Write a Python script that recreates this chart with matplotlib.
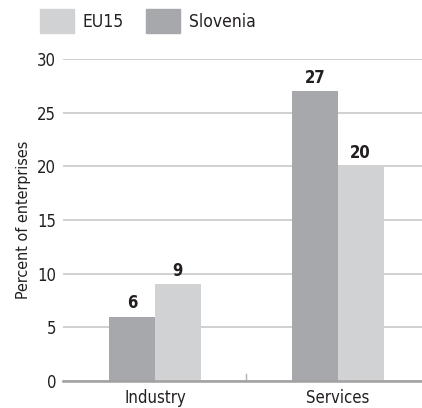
import matplotlib
matplotlib.use("Agg")
from matplotlib import pyplot as plt
from matplotlib.patches import Patch
import numpy as np

categories = ["Industry", "Services"]
slovenia = [6, 27]
eu15 = [9, 20]
yticks = [0, 5, 10, 15, 20, 25, 30]

plt.rcParams['font.family'] = ['DejaVu Sans']
plt.rcParams['font.stretch'] = 'condensed'

dark = '#a7a8ab'
light = '#d1d2d4'
txt = '#231f20'

W, H = 422, 408
fig = plt.figure(figsize=(W/100, H/100), dpi=100)
ax = fig.add_axes([63/W, (H-381)/H, (W-63)/W, (381-59)/H])

x = np.arange(len(categories))
w = 0.25
b1 = ax.bar(x - w/2, slovenia, w, color=dark, zorder=3)
b2 = ax.bar(x + w/2, eu15, w, color=light, zorder=3)
for bars in (b1, b2):
    for r in bars:
        ax.text(r.get_x() + r.get_width()/2, r.get_height() + 0.4, "%d" % r.get_height(),
                ha='center', va='bottom', fontsize=12, fontweight='bold', color=txt)

ax.set_ylim(0, 30)
ax.set_xlim(-0.503, 1.46)
ax.set_yticks(yticks)
ax.set_xticks(x)
ax.set_xticklabels(categories, fontsize=12, color=txt)
ax.tick_params(axis='y', length=0, pad=5, labelsize=12, labelcolor=txt)
ax.tick_params(axis='x', length=0, pad=6)
ax.yaxis.grid(True, color='#c8c8c8', linewidth=1.2, zorder=0)
for s in ('top', 'right', 'left'):
    ax.spines[s].set_visible(False)
ax.spines['bottom'].set_color('#a0a0a0')
ax.spines['bottom'].set_linewidth(1.8)
ax.spines['bottom'].set_zorder(4)
ax.plot([0.5, 0.5], [0, 0.65], color='#b0b0b0', linewidth=1, zorder=4)
ax.set_ylabel("Percent of enterprises", fontsize=11.5, labelpad=4, color=txt)

handles = [Patch(color=light, label='EU15'), Patch(color=dark, label='Slovenia')]
fig.legend(handles=handles, loc='upper left', bbox_to_anchor=(40/W, 1 - 9/H), ncol=2,
           frameon=False, fontsize=12.5, handlelength=1.95, handleheight=1.75,
           columnspacing=1.3, handletextpad=0.5, borderpad=0, borderaxespad=0,
           labelcolor=txt)

fig.savefig("out.png", dpi=100)
